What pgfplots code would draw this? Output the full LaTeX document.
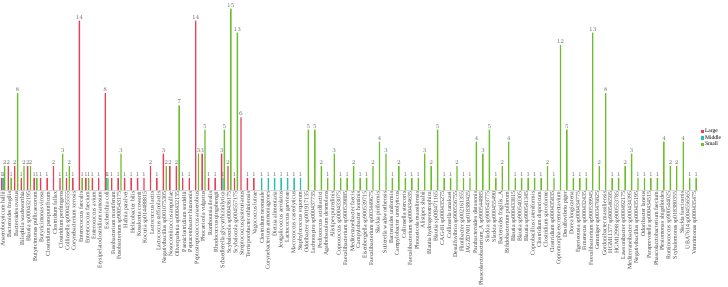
\documentclass[border=0pt]{standalone}
\usepackage{pgfplots}
\pgfplotsset{compat=1.18}
\usepackage{fontspec}
\setmainfont{Liberation Serif}
\definecolor{large}{HTML}{E9405A}
\definecolor{middle}{HTML}{2BBFB3}
\definecolor{small}{HTML}{6CBE2E}
\pgfplotsset{sqleg/.style={legend image code/.code={\fill[##1] (0bp,-1.7bp) rectangle (3.4bp,1.7bp);}}}
\begin{document}
\begin{tikzpicture}[x=1bp,y=1bp]
\begin{axis}[
  at={(0,0)}, anchor=south west,
  scale only axis,
  width=698bp, height=187.5bp,
  xmin=-0.5, xmax=107.5,
  ymin=0, ymax=15.5,
  ybar=0pt, bar width=1.4bp,
  axis x line*=bottom, axis y line=none,
  x axis line style={draw=black!15},
  major tick length=0pt,
  ytick=\empty,
  xtick={0,...,107},
  xticklabels={
    Anaerobutyricum hallii, Bacteroides fragilis, Bacteroides ovatus, Bilophila wadsworthia,
    Blautia sp000432195, Butyricimonas pullicaecorum, Butyricimonas virosa, Clostridium paraputrificum,
    Clostridium fallax, Clostridium perfringens, Collinsella sp000435555, Corynebacterium xerosis,
    Enterococcus faecalis, Enterococcus faecium, Enterococcus avium, Erysipelatoclostridium ramosum,
    Escherichia coli, Fusobacterium mortiferum, Fusobacterium sp900543175, Hafnia paralvei,
    Helicobacter bilis, Kosakonia cowanii, Kocuria sp014488815, Lactococcus lactis,
    Lactococcus raffinolactis, Negativibacillus sp001075305, Nosocomiicoccus ampullae, Oliverpabstia sp000432135,
    Paeniclostridium sordellii, Peptacetobacter hiranonis, Peptostreptococcus anaerobius, Phocaeicola vulgatus,
    Romboutsia ilealis, Rhodococcus qingshengii, Schaedlerella glycyrrhizinilytica, Scybalocola sp000436175,
    Scybalocola sp004557175, Streptococcus pasteurianus, Terrisporobacter othiniensis, Vagococcus lutrae,
    Clostridium neonatale, Corynebacterium ammoniagenes, Dietzia alimentaria, Jeotgalicoccus aerolatus,
    Lactococcus garvieae, Macrococcus caseolyticus, Staphylococcus equorum, Odoribacter sp001917135,
    Lachnospira sp000437735, Pediococcus acidilactici, Agathobaculum desmolans, Alistipes putredinis,
    Coprococcus sp000433075, Faecalibacterium sp900539885, Mediterraneibacter faecis, Campylobacter hominis,
    Eisenbergiella sp900539715, Faecalibacterium sp003449675, Slackia piriformis, Sutterella wadsworthensis,
    Bacteroides uniformis, Campylobacter ureolyticus, Collinsella stercoris, Faecalibacterium sp000434635,
    Phocaeicola massiliensis, Alistipes shahii, Blautia hydrogenotrophica, Blautia sp003471165,
    CAG-81 sp000435275, Collinsella tanakaei, Desulfovibrio sp900556755, Flintibacter sp002161355,
    JAGZDN01 sp018380425, Parabacteroides distasonis, Phascolarctobacterium\_A sp900544885, Slackia sp900543775,
    Slackia sp000455490, Bacteroides fragilis\_A, Bifidobacterium pullorum, Blautia sp000433815,
    Blautia sp900540305, Blautia sp900541345, Coprobacillus cateniformis, Clostridium disporicum,
    Clostridium spiroforme, Clostridium sp000435835, Copromorpha excrementavium, Desulfovibrio piger,
    Dorea longicatena, Egerieousia sp000434775, Fimenecus sp000432435, Faecalibacterium sp900539945,
    Gemmiger sp003476825, Gordonibacter massiliensis, HGM11377 sp900546595, HGM12998 sp900553785,
    Lawsonibacter sp000492175, Mediterraneibacter sp000434395, Negativibacillus sp000435195, Odoribacter laneus,
    Paraprevotella sp000434515, Phascolarctobacterium faecium, Plesiomonas shigelloides, Ruminococcus sp900544025,
    Scybalomonas sp018380355, Slackia faecicanis, UBA7614 sp004556565, Ventrimonas sp000435475},
  xticklabel style={rotate=90, anchor=east, font=\fontsize{5.9}{6}\selectfont, text=black!75, inner sep=1.5pt},
  nodes near coords,
  every node near coord/.append style={font=\fontsize{5.6}{6}\selectfont, text=black!60, inner sep=1.3pt},
  clip=false,
  legend style={at={(1.004,0.276)}, anchor=west, draw=none, fill=none,
    font=\fontsize{5.6}{6}\selectfont, row sep=0pt, inner sep=0pt,
    nodes={inner sep=0.6pt}},
  legend cell align=left,
]
% Large
\addplot[fill=large, draw=none, sqleg] coordinates {
  (0,1) (1,2) (2,2) (3,1) (4,2) (5,1) (6,1) (7,1) (8,2) (9,1)
  (10,1) (11,1) (12,14) (13,1) (14,1) (15,1) (16,8) (17,1) (18,1) (19,1)
  (20,1) (21,1) (22,1) (23,2) (24,1) (25,3) (26,2) (27,2) (28,1) (29,1)
  (30,14) (31,3) (32,1) (33,1) (34,3) (35,2) (36,1) (37,6) (38,1) (39,1)};
% Middle
\addplot[fill=middle, draw=none, sqleg] coordinates {
  (0,1) (16,1) (34,1) (40,1) (41,1) (42,1) (43,1) (44,1) (45,1) (46,1)};
% Small
\addplot[fill=small, draw=none, sqleg] coordinates {
  (0,2) (1,1) (2,8) (3,2) (4,2) (5,1) (9,3) (10,2) (12,1) (13,1)
  (16,1) (18,3) (25,2) (27,7) (30,3) (31,5) (34,5) (35,15) (36,13)
  (47,5) (48,5) (49,2) (50,1) (51,3) (52,1) (53,1) (54,2) (55,1) (56,1)
  (57,2) (58,4) (59,3) (60,1) (61,2) (62,1) (63,1) (64,1) (65,3) (66,2)
  (67,5) (68,1) (69,1) (70,2) (71,1) (72,1) (73,4) (74,3) (75,5) (76,1)
  (77,2) (78,4) (79,1) (80,1) (81,1) (82,1) (83,1) (84,2) (85,1) (86,12)
  (87,5) (88,1) (89,1) (90,1) (91,13) (92,2) (93,8) (94,1) (95,1) (96,2)
  (97,3) (98,1) (99,1) (100,1) (101,1) (102,4) (103,2) (104,2) (105,4) (106,1)
  (107,1)};
\legend{Large, Middle, Small}
\end{axis}
\pgfresetboundingbox
\useasboundingbox (0,-96) rectangle (728,190);
\end{tikzpicture}
\end{document}
